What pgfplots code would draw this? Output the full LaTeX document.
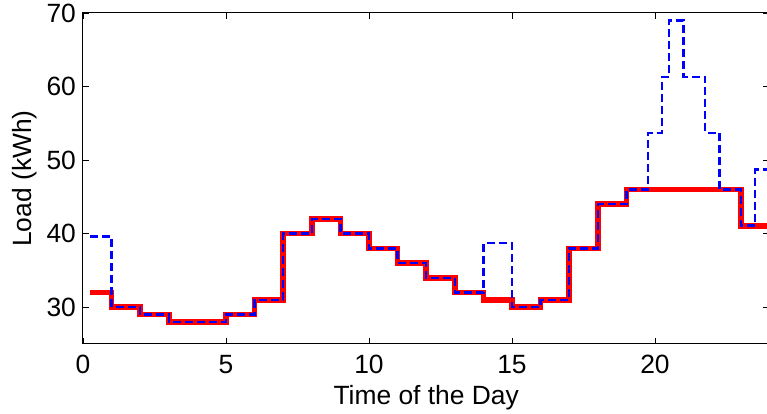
\documentclass[border=0pt]{standalone}
\usepackage{fontspec}
\setmainfont{Liberation Sans}
\usepackage{pgfplots}
\pgfplotsset{compat=1.18}
\begin{document}
\begin{tikzpicture}
\begin{axis}[
  scale only axis,
  width=343.2pt, height=165.5pt,
  xmin=0, xmax=24, ymin=25, ymax=70,
  xtick={0,5,10,15,20},
  ytick={30,40,50,60,70},
  tick align=inside,
  major tick length=3pt,
  tick style={black, line width=0.4pt},
  axis line style={black, line width=0.5pt},
  /pgf/number format/assume math mode=true,
  ticklabel style={font=\fontsize{13.2}{15}\selectfont},
  xticklabel style={yshift=-2pt},
  label style={font=\fontsize{13.2}{15}\selectfont},
  xlabel={Time of the Day},
  ylabel={Load (kWh)},
  xlabel style={yshift=1pt},
  ylabel style={yshift=-2pt},
  clip=true,
]
\addplot[const plot, color=red, line width=2.8pt] coordinates {
(0.25,32)(1,30)(2,29)(3,28)(5,29)(6,31)(7,40)(8,42)(9,40)(10,38)(11,36)(12,34)(13,32)(14,31)(15,30)(16,31)(17,38)(18,44)(19,46)(23,41)(24,41)
};
\addplot[const plot, color=blue, line width=1.2pt, dash pattern=on 4pt off 2pt] coordinates {
(0.25,39.6)(1,30)(2,29)(3,28)(5,29)(6,31)(7,40)(8,42)(9,40)(10,38)(11,36)(12,34)(13,32)(14,38.7)(15,30)(16,31)(17,38)(18,44)(19,46)(19.75,53.7)(20.25,61.3)(20.5,69)(21,61.3)(21.75,53.7)(22.25,46)(23,41.1)(23.5,48.7)(24,48.7)
};
\end{axis}
\pgfresetboundingbox
\path[use as bounding box] ([shift={(-41.5pt,-35pt)}]current axis.south west) rectangle ([shift={(-1.2pt,6.5pt)}]current axis.north east);
\end{tikzpicture}
\end{document}
